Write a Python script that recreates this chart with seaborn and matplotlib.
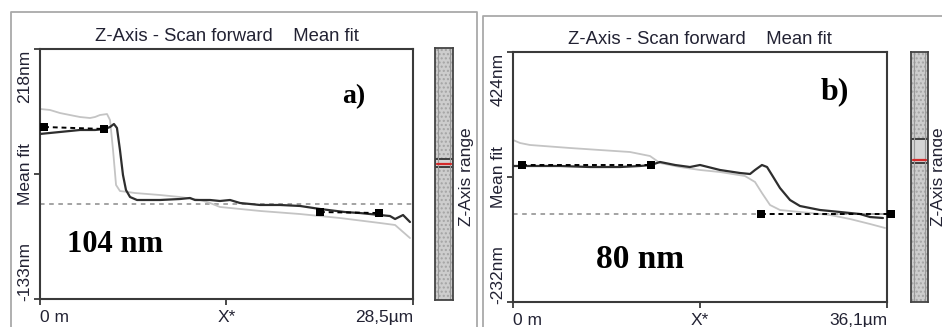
import numpy as np
import pandas as pd
import seaborn as sns
import matplotlib.pyplot as plt
from matplotlib.lines import Line2D

# ---- panel a) data (x in um, z in nm) ----
a_x_dark = [0, 1.53, 3.06, 4.20, 4.97, 5.35, 5.65, 5.88, 6.11, 6.34, 6.57, 6.88, 7.41,
            9.17, 10.70, 11.46, 11.84, 12.99, 13.75, 14.52, 15.28, 16.81, 18.34, 19.87,
            21.39, 23.30, 24.45, 25.98, 26.74, 27.13, 27.74, 28.27]
a_z_dark = [98.7, 101.5, 104.3, 104.3, 105.7, 108.5, 112.7, 107.1, 76.2, 41.1, 20.0, 10.2, 6.0,
            6.0, 7.4, 8.8, 6.0, 6.0, 4.6, 6.0, 1.8, -1.0, -1.0, -2.4,
            -6.6, -10.9, -12.3, -15.1, -16.5, -20.7, -15.1, -24.9]
a_x_gray = [0, 0.76, 1.53, 2.29, 3.06, 3.82, 4.20, 4.58, 5.12, 5.35, 5.58, 5.81, 6.11, 6.72,
            7.26, 9.17, 10.70, 12.23, 12.99, 13.75, 15.28, 16.81, 19.87, 22.92, 25.98, 27.13,
            27.74, 28.27]
a_z_gray = [133.8, 132.4, 128.1, 125.3, 122.5, 121.1, 122.5, 125.3, 126.7, 118.3, 76.2, 27.1,
            18.6, 17.2, 15.8, 13.0, 10.2, 6.0, 1.8, -3.8, -6.6, -9.4, -13.7, -19.3, -26.3, -29.1,
            -38.9, -47.4]
a_mark_x = [0.31, 4.89, 21.39, 25.90]
a_mark_z = [108.5, 105.7, -10.9, -12.3]
a_range = (-133, 218)
a_xmax = 28.5
a_ticklabels = ["0 m", "X*", "28,5µm"]
a_zlabels = ["218nm", "Mean fit", "-133nm"]
a_zbar = (0.528, 0.56, 0.54)   # highlighted band low, high, red marker (fraction of bar)

# ---- panel b) data ----
b_x_dark = [0, 1.64, 4.54, 7.43, 10.33, 12.26, 13.32, 14.19, 15.64, 17.08, 18.05, 19.98,
            21.91, 22.88, 23.36, 24.03, 24.52, 25.00, 25.77, 26.74, 27.70, 29.63, 31.56,
            33.49, 34.46, 35.71]
b_z_dark = [124.9, 124.9, 124.9, 122.2, 122.2, 124.9, 127.5, 135.4, 127.5, 122.2, 127.5, 114.4,
            106.5, 103.9, 114.4, 127.5, 122.2, 101.2, 67.1, 35.6, 19.9, 9.4, 4.2,
            -1.1, -9.0, -11.6]
b_x_gray = [0, 0.68, 1.64, 5.50, 8.40, 11.29, 13.22, 14.19, 16.12, 18.05, 19.98, 22.39, 23.36,
            24.03, 24.81, 25.77, 27.70, 30.60, 32.53, 34.46, 35.91]
b_z_gray = [193.1, 185.2, 180.0, 172.1, 166.8, 161.6, 151.1, 132.7, 122.2, 114.4, 109.1, 98.6,
            82.9, 54.0, 22.5, 9.4, 4.2, -3.7, -14.2, -27.3, -37.8]
b_mark_x = [0.87, 13.32, 23.94, 36.45]
b_mark_z = [127.5, 127.5, -1.1, -1.1]
b_range = (-232, 424)
b_xmax = 36.1
b_ticklabels = ["0 m", "X*", "36,1µm"]
b_zlabels = ["424nm", "Mean fit", "-232nm"]
b_zbar = (0.556, 0.652, 0.568)

TITLE = "Z-Axis - Scan forward    Mean fit"
W, H = 942, 327

sns.set_theme(style="white")
plt.rcParams['font.family'] = ['Liberation Sans', 'DejaVu Sans']
TXT = "#222233"


def fx(px):
    return px / W


def fy(py):
    return 1 - py / H


def draw_panel(fig, box, cbox, xs_dark, zs_dark, xs_gray, zs_gray, mx, mz, zrange, xmax,
               ticklabels, zlabels, zbar, tag, tag_pos, step_text, step_pos, big):
    ax = fig.add_axes(box)
    ax.set_facecolor("white")

    # reference line at zero
    ax.axhline(0, color="#8a8a8a", lw=1.1, ls=(0, (3, 3)), zorder=1)

    sns.lineplot(x=xs_gray, y=zs_gray, ax=ax, color="#c4c4c4", lw=1.3, estimator=None,
                 sort=False, zorder=2)
    sns.lineplot(x=xs_dark, y=zs_dark, ax=ax, color="#2e2e2e", lw=1.6, estimator=None,
                 sort=False, zorder=3)

    # fit segments between marker pairs
    for i in (0, 2):
        ax.add_line(Line2D(mx[i:i + 2], mz[i:i + 2], color="black", lw=1.4,
                           ls=(0, (2.5, 2)), zorder=4, clip_on=False))
    sns.scatterplot(x=mx, y=mz, ax=ax, marker="s", s=38, color="black",
                    edgecolor="black", linewidth=0, zorder=5, clip_on=False)

    ax.set_xlim(0, xmax)
    ax.set_ylim(*zrange)
    for s in ax.spines.values():
        s.set_color("#3a3a3a")
        s.set_linewidth(1.5)

    ax.set_xticks([0, xmax / 2, xmax], labels=ticklabels)
    ax.set_yticks([zrange[0], sum(zrange) / 2, zrange[1]], labels=[])
    ax.tick_params(axis="both", direction="out", length=4, width=1.3, color="#3a3a3a",
                   bottom=True, left=True, labelsize=12.5, labelcolor=TXT, pad=4)
    lbls = ax.get_xticklabels()
    lbls[0].set_ha("left")
    lbls[2].set_ha("right")

    # rotated value labels on the z axis
    for frac, t in zip([0.89, 0.5, 0.11], zlabels):
        ax.text(-0.04, frac, t, rotation=90, ha="center", va="center",
                transform=ax.transAxes, fontsize=12.5, color=TXT)

    ax.set_title(TITLE, fontsize=13.3, color=TXT, pad=6)

    ax.text(tag_pos[0], tag_pos[1], tag, transform=ax.transAxes, ha="center", va="center",
            fontsize=big[0], fontweight="bold", family="Liberation Serif", color="black")
    ax.text(step_pos[0], step_pos[1], step_text, transform=ax.transAxes, ha="center",
            va="center", fontsize=big[1], fontweight="bold", family="Liberation Serif",
            color="black")

    # z-axis range bar
    cax = fig.add_axes(cbox)
    cax.set_xlim(0, 1)
    cax.set_ylim(0, 1)
    cax.set_xticks([])
    cax.set_yticks([])
    cax.axhspan(0, 1, facecolor="#cdcdcd", edgecolor="#a4a4a4", hatch="....", lw=0)
    for xv in (0.18, 0.82):
        cax.axvline(xv, color="#9a9a9a", lw=0.8)
    cax.axhspan(zbar[0], zbar[1], facecolor="#d4d4d4", edgecolor="#333333", lw=1.3)
    cax.axhline(zbar[2], xmin=0.12, xmax=0.88, color="#d42a2a", lw=1.6)
    for s in cax.spines.values():
        s.set_color("#444444")
        s.set_linewidth(1.3)
    return ax


fig = plt.figure(figsize=(W / 100, H / 100), dpi=100)
fig.patch.set_facecolor("white")

# panel frames
frame = dict(color="#a9a9a9", lw=1.3, transform=fig.transFigure, clip_on=False)
fig.add_artist(Line2D([fx(11), fx(11), fx(477), fx(477)], [0, fy(12), fy(12), 0], **frame))
fig.add_artist(Line2D([fx(483), fx(483), 1.0], [0, fy(16), fy(16)], **frame))

draw_panel(fig, [fx(40), fy(299), fx(373), 250 / H], [fx(435), fy(300), fx(18), 252 / H],
           a_x_dark, a_z_dark, a_x_gray, a_z_gray, a_mark_x, a_mark_z, a_range, a_xmax,
           a_ticklabels, a_zlabels, a_zbar, "a)", (0.84, 0.81), "104 nm", (0.2, 0.22),
           (20, 22))
draw_panel(fig, [fx(513), fy(302), fx(374), 250 / H], [fx(911), fy(302), fx(17), 250 / H],
           b_x_dark, b_z_dark, b_x_gray, b_z_gray, b_mark_x, b_mark_z, b_range, b_xmax,
           b_ticklabels, b_zlabels, b_zbar, "b)", (0.86, 0.84), "80 nm", (0.34, 0.17),
           (23, 24))

# z-axis range captions (the right one is cut by the image edge, as in the source)
for xp in (467, 939):
    fig.text(fx(xp), fy(177), "Z-Axis range", rotation=90, ha="center", va="center",
             fontsize=12.5, color=TXT)

plt.savefig("out.png", dpi=100)
